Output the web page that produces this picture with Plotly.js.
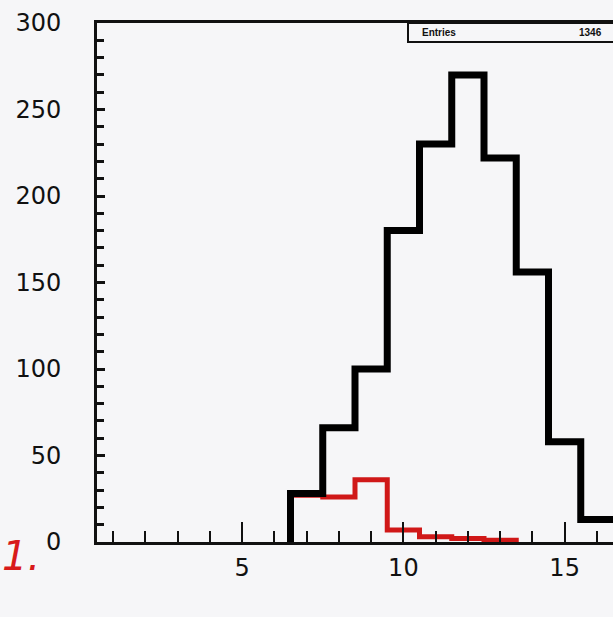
<!DOCTYPE html>
<html>
<head>
<meta charset="utf-8">
<script src="https://cdn.plot.ly/plotly-3.0.1.min.js"></script>
<style>
  html, body { margin: 0; padding: 0; overflow: hidden; background: #f6f6f8; }
  #chart { width: 613px; height: 617px; }
</style>
</head>
<body>
<div id="chart"></div>
<script>
// Bin centres (bin width 1)
const binCenters = [7, 8, 9, 10, 11, 12, 13, 14, 15, 16];
// Black histogram counts
const blackCounts = [28, 66, 100, 180, 230, 270, 222, 156, 58, 13];
// Red histogram counts
const redCenters = [7, 8, 9, 10, 11, 12, 13];
const redCounts = [27, 26, 36, 7, 3, 2, 1];
// Stats box
const statLabel = "Entries";
const statValue = "1346";
// Axis ticks
const yTickVals = [0, 50, 100, 150, 200, 250, 300];
const xTickVals = [5, 10, 15];

function stepPoints(centers, counts, closeEnd) {
  const xs = [], ys = [];
  const w = 1;
  xs.push(centers[0] - w / 2); ys.push(0);
  for (let i = 0; i < centers.length; i++) {
    xs.push(centers[i] - w / 2); ys.push(counts[i]);
  }
  const last = centers[centers.length - 1] + w / 2;
  xs.push(last); ys.push(counts[counts.length - 1]);
  if (closeEnd) { xs.push(last); ys.push(0); }
  return { xs, ys };
}

const red = stepPoints(redCenters, redCounts, true);
const black = stepPoints(binCenters, blackCounts, false);

const traces = [
  {
    x: red.xs, y: red.ys, type: 'scatter', mode: 'lines',
    line: { shape: 'hv', color: '#d01818', width: 5 },
    hoverinfo: 'skip', showlegend: false, cliponaxis: true
  },
  {
    x: black.xs, y: black.ys, type: 'scatter', mode: 'lines',
    line: { shape: 'hv', color: '#000000', width: 7 },
    hoverinfo: 'skip', showlegend: false, cliponaxis: true
  }
];

const layout = {
  width: 613, height: 617,
  margin: { l: 97, r: 0, t: 23, b: 75, pad: 0 },
  paper_bgcolor: '#f6f6f8',
  plot_bgcolor: '#f6f6f8',
  showlegend: false,
  font: { family: 'DejaVu Sans, Arial, sans-serif', color: '#111' },
  xaxis: {
    range: [0.5, 16.5],
    tickvals: xTickVals,
    ticktext: xTickVals.map(String),
    ticks: 'inside', ticklen: 20, tickwidth: 2, tickcolor: '#111',
    minor: { dtick: 1, tick0: 0, ticks: 'inside', ticklen: 11, tickwidth: 2, tickcolor: '#111' },
    showline: true, linecolor: '#111', linewidth: 3, mirror: true,
    showgrid: false, zeroline: false,
    tickfont: { size: 24, family: 'DejaVu Sans, Arial, sans-serif', color: '#111' },
    ticklabelstandoff: 2
  },
  yaxis: {
    range: [0, 300],
    tickvals: yTickVals,
    ticks: 'inside', ticklen: 8, tickwidth: 3, tickcolor: '#111',
    minor: { dtick: 10, tick0: 0, ticks: 'inside', ticklen: 7, tickwidth: 3, tickcolor: '#111' },
    showline: true, linecolor: '#111', linewidth: 3, mirror: false,
    showgrid: false, zeroline: false,
    tickfont: { size: 24, family: 'DejaVu Sans, Arial, sans-serif', color: '#111' },
    ticklabelstandoff: 28
  },
  shapes: [
    {
      type: 'rect', xref: 'paper', yref: 'paper',
      x0: (408 - 97) / 516, x1: 1.05, y0: (542 - 42) / 519, y1: 1,
      line: { color: '#111', width: 2 }, fillcolor: 'rgba(0,0,0,0)'
    }
  ],
  annotations: [
    {
      xref: 'paper', yref: 'paper', x: (420 - 97) / 516, y: (542 - 33) / 519,
      xanchor: 'left', yanchor: 'middle', showarrow: false,
      text: '<b>' + statLabel + '</b>',
      font: { size: 10, family: 'Arial, sans-serif', color: '#111' }
    },
    {
      xref: 'paper', yref: 'paper', x: (604 - 97) / 516, y: (542 - 33) / 519,
      xanchor: 'right', yanchor: 'middle', showarrow: false,
      text: '<b>' + statValue + '</b>',
      font: { size: 10, family: 'Arial, sans-serif', color: '#111' }
    },
    {
      xref: 'paper', yref: 'paper', x: (0 - 97) / 516, y: (542 - 556) / 519,
      xanchor: 'left', yanchor: 'middle', showarrow: false,
      text: '<i>1.</i>',
      font: { size: 40, family: 'DejaVu Sans, sans-serif', color: '#d81a1a' }
    }
  ]
};

Plotly.newPlot('chart', traces, layout, { staticPlot: true, displayModeBar: false });
</script>
</body>
</html>
